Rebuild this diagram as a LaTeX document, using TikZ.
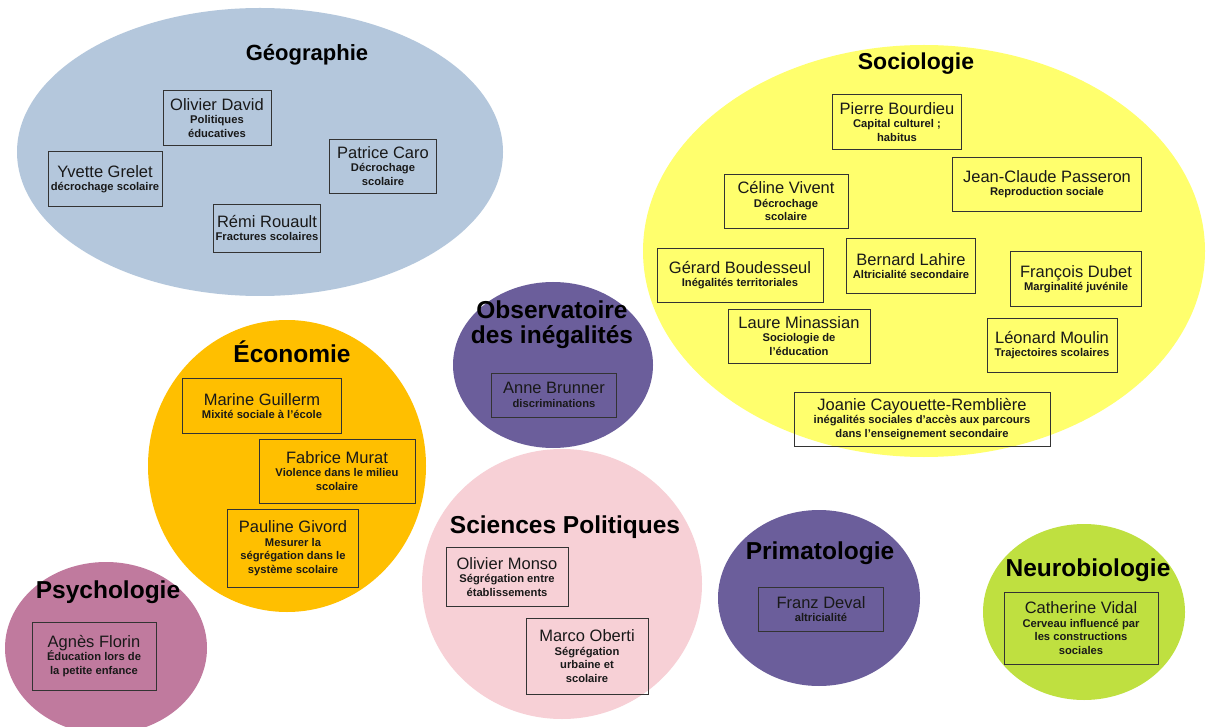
\documentclass[tikz,border=0pt]{standalone}
\usepackage{fontspec}
\setmainfont{Liberation Sans}
\definecolor{geoC}{HTML}{B4C7DC}
\definecolor{socC}{HTML}{FFFF6D}
\definecolor{ecoC}{HTML}{FFBF00}
\definecolor{purC}{HTML}{6B5E9B}
\definecolor{sciC}{HTML}{F7D0D6}
\definecolor{neuC}{HTML}{BFE040}
\definecolor{psyC}{HTML}{C07A9E}
\newcommand\nm[1]{{\fontsize{16.5}{18}\selectfont\mdseries #1}}
\tikzset{
  titre/.style={font=\fontsize{24.5}{25}\selectfont\bfseries, text=black, align=center, inner sep=0pt},
  pbox/.style={draw=black!80, line width=0.9pt, align=center, inner sep=2pt,
    font=\fontsize{11.2}{13.5}\selectfont\bfseries, text=black!90},
}
\begin{document}
\begin{tikzpicture}[x=1pt,y=-1pt]
\useasboundingbox[fill=white] (0,0) rectangle (1207,727);
% fields
\fill[geoC] (260,152) ellipse [x radius=243, y radius=144];
\fill[socC] (924,251) ellipse [x radius=281, y radius=206];
\fill[ecoC] (287,466) ellipse [x radius=139, y radius=146];
\fill[purC] (553,365) ellipse [x radius=100, y radius=83];
\fill[sciC] (562,584) ellipse [x radius=140, y radius=135];
\fill[purC] (819,598) ellipse [x radius=101, y radius=88];
\fill[neuC] (1084,612) ellipse [x radius=101, y radius=88];
\fill[psyC] (106,648) ellipse [x radius=101, y radius=86];
% titles
\node[titre, font=\fontsize{22}{24}\selectfont\bfseries] (tgeo) at (307,55) {Géographie};
\node[titre, font=\fontsize{23}{25}\selectfont\bfseries] (tsoc) at (916,64) {Sociologie};
\node[titre] (teco) at (292,352) {Économie};
\node[titre] (tobs) at (552,325) {Observatoire\\des inégalités};
\node[titre] (tsci) at (565,527) {Sciences Politiques};
\node[titre] (tpri) at (820,553) {Primatologie};
\node[titre] (tneu) at (1088,570) {Neurobiologie};
\node[titre] (tpsy) at (108,592) {Psychologie};
% Géographie
\node[pbox, minimum width=108, minimum height=55] (od) at (217,118) {\nm{Olivier David}\\Politiques\\éducatives};
\node[pbox, minimum width=114, minimum height=55] (yg) at (105,179) {\nm{Yvette Grelet}\\décrochage scolaire};
\node[pbox, minimum width=107, minimum height=54] (pc) at (383,166) {\nm{Patrice Caro}\\Décrochage\\scolaire};
\node[pbox, minimum width=107, minimum height=48] (rr) at (267,228) {\nm{Rémi Rouault}\\Fractures scolaires};
% Sociologie
\node[pbox, minimum width=129, minimum height=55] (pb) at (897,122) {\nm{Pierre Bourdieu}\\Capital culturel ;\\habitus};
\node[pbox, minimum width=189, minimum height=54] (jcp) at (1047,184) {\nm{Jean-Claude Passeron}\\Reproduction sociale};
\node[pbox, minimum width=124, minimum height=54] (cv) at (786,201) {\nm{Céline Vivent}\\Décrochage\\scolaire};
\node[pbox, minimum width=166, minimum height=54] (gb) at (740,275) {\nm{Gérard Boudesseul}\\Inégalités territoriales};
\node[pbox, minimum width=129, minimum height=55] (bl) at (911,266) {\nm{Bernard Lahire}\\Altricialité secondaire};
\node[pbox, minimum width=131, minimum height=55] (fd) at (1076,279) {\nm{François Dubet}\\Marginalité juvénile};
\node[pbox, minimum width=142, minimum height=54] (lm) at (799,336) {\nm{Laure Minassian}\\Sociologie de\\l’éducation};
\node[pbox, minimum width=130, minimum height=54] (lmo) at (1052,345) {\nm{Léonard Moulin}\\Trajectoires scolaires};
\node[pbox, minimum width=256, minimum height=54] (jcr) at (922,419) {\nm{Joanie Cayouette-Remblière}\\inégalités sociales d’accès aux parcours\\dans l’enseignement secondaire};
% Économie
\node[pbox, minimum width=159, minimum height=55] (mg) at (262,406) {\nm{Marine Guillerm}\\Mixité sociale à l’école};
\node[pbox, minimum width=156, minimum height=64] (fm) at (337,471) {\nm{Fabrice Murat}\\Violence dans le milieu\\scolaire};
\node[pbox, minimum width=131, minimum height=78] (pg) at (293,548) {\nm{Pauline Givord}\\Mesurer la\\ségrégation dans le\\système scolaire};
% Observatoire
\node[pbox, minimum width=125, minimum height=44] (ab) at (554,395) {\nm{Anne Brunner}\\discriminations};
% Sciences Politiques
\node[pbox, minimum width=122, minimum height=59] (om) at (507,577) {\nm{Olivier Monso}\\Ségrégation entre\\établissements};
\node[pbox, minimum width=122, minimum height=76] (mo) at (587,656) {\nm{Marco Oberti}\\Ségrégation\\urbaine et\\scolaire};
% Primatologie
\node[pbox, minimum width=125, minimum height=44] (fdv) at (821,609) {\nm{Franz Deval}\\altricialité};
% Neurobiologie
\node[pbox, minimum width=154, minimum height=72] (cvi) at (1081,628) {\nm{Catherine Vidal}\\Cerveau influencé par\\les constructions\\sociales};
% Psychologie
\node[pbox, minimum width=124, minimum height=68] (af) at (94,656) {\nm{Agnès Florin}\\Éducation lors de\\la petite enfance};
\end{tikzpicture}
\end{document}
